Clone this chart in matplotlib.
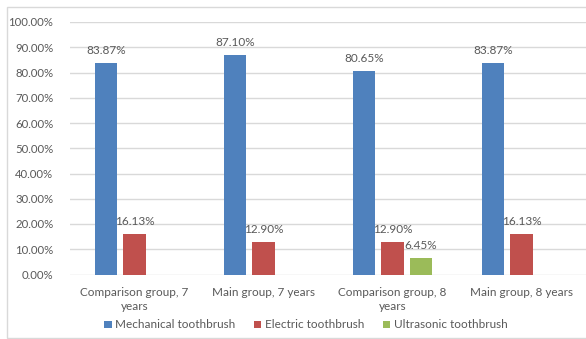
import numpy as np
import matplotlib.pyplot as plt
from matplotlib.patches import Rectangle

categories = ["Comparison group, 7\nyears", "Main group, 7 years",
              "Comparison group, 8\nyears", "Main group, 8 years"]
series_names = ["Mechanical toothbrush", "Electric toothbrush", "Ultrasonic toothbrush"]
mechanical = [83.87, 87.10, 80.65, 83.87]
electric = [16.13, 12.90, 12.90, 16.13]
ultrasonic = [0.0, 0.0, 6.45, 0.0]
yticks = [0, 10, 20, 30, 40, 50, 60, 70, 80, 90, 100]

colors = ["#4F81BD", "#C0504D", "#9BBB59"]
txt = "#595959"
fs = 8.2
plt.rcParams['font.family'] = ['Lato', 'DejaVu Sans']

W, H = 586, 339
fig = plt.figure(figsize=(W / 100, H / 100), dpi=100)
# chart border like excel
fig.patches.append(Rectangle((6.5 / W, 1.5 / H), 1.2, (338 - 7.5) / H,
                             transform=fig.transFigure, fill=False,
                             edgecolor="#D9D9D9", lw=1))
ax = fig.add_axes([70 / W, (H - 274.5) / H, (586 - 70) / W, (274.5 - 22) / H])

x = np.arange(len(categories))
step = 0.222
width = 0.174
for i, (vals, name) in enumerate(zip([mechanical, electric, ultrasonic], series_names)):
    bars = ax.bar(x + (i - 1) * step, [v / 100 for v in vals], width,
                  color=colors[i], label=name, zorder=2)
    labels = ["%.2f%%" % v if v > 0 else "" for v in vals]
    ax.bar_label(bars, labels=labels, padding=5, fontsize=fs + 0.3, color=txt)

ax.set_xlim(-0.5, 3.5)
ax.set_ylim(0, 1.0)
ax.set_yticks([t / 100 for t in yticks])
ax.set_yticklabels(["%.2f%%" % t for t in yticks], fontsize=fs, color=txt)
ax.set_xticks(x)
ax.set_xticklabels(categories, fontsize=fs + 0.3, color=txt, linespacing=1.3)
ax.tick_params(length=0)
ax.tick_params(axis='y', pad=12)
ax.tick_params(axis='x', pad=9)
ax.grid(axis='y', color="#D9D9D9", lw=1, zorder=0)
for s in ax.spines.values():
    s.set_visible(False)

fig.legend(loc='center', bbox_to_anchor=(306 / W, (H - 325) / H), ncol=3,
           frameon=False, fontsize=fs + 0.3, handlelength=0.6, handleheight=0.6,
           handletextpad=0.3, columnspacing=1.6, labelcolor=txt)

fig.savefig("out.png", dpi=100)
